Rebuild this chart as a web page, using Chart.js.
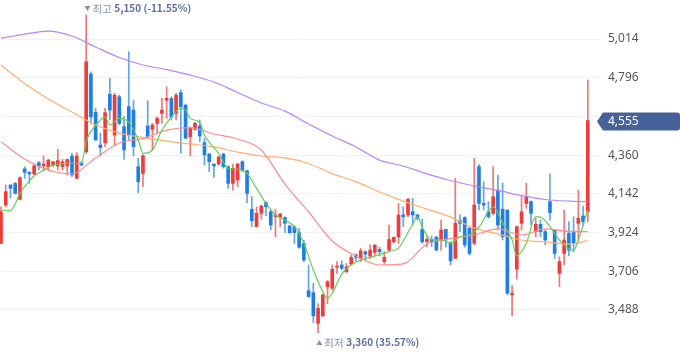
<!DOCTYPE html>
<html>
<head>
<meta charset="utf-8">
<script src="https://cdn.jsdelivr.net/npm/chart.js@4/dist/chart.umd.min.js"></script>
<style>
  html, body { margin: 0; padding: 0; background: #fff; }
  canvas { display: block; }
</style>
</head>
<body>
<canvas id="chart" width="680" height="358"></canvas>
<script>
// daily candles (price)
const opens = [3863,4079,4192,4201,4111,4282,4263,4254,4317,4299, 4295,4304,4299,4295,4299,4355,4229,4317,4379,4817,
  4601,4417,4430,4703,4473,4689,4520,4633,4614,4295, 4257,4524,4505,4539,4595,4670,4679,4595,4712,4642,
  4464,4505,4524,4430,4366,4310,4310,4366,4295,4201, 4220,4323,4272,4055,3957,4032,4092,4041,4013,4011,
  4009,3961,3957,3923,3863,3596,3585,3412,3454,3619, 3610,3728,3741,3703,3747,3797,3778,3816,3792,3812,
  3829,3760,3825,3872,3900,4023,4023,4041,4023,3942, 3872,3885,3897,3882,3942,3863,3778,3991,4009,3948,
  3863,4295,4088,4041,4032,4163,4055,4051,3572,3717, 3976,4088,4098,3929,3970,3929,4098,3938,3694,3806,
  3919,3929,3976,4017,4041];
const highs = [4069,4192,4192,4205,4238,4295,4267,4310,4323,4355, 4336,4323,4393,4336,4336,4370,4376,4323,5150,4830,
  4624,4483,4624,4793,4708,4698,4576,4943,4670,4342, 4361,4667,4539,4576,4680,4745,4689,4708,4727,4648,
  4520,4545,4558,4455,4370,4310,4351,4370,4299,4310, 4314,4329,4276,4126,4069,4079,4098,4051,4055,4032,
  4013,3966,3961,3948,3882,3741,3638,3524,3578,3653, 3741,3760,3765,3750,3797,3806,3835,3821,3854,3854,
  3841,3816,3966,3900,4088,4069,4117,4117,4026,4000, 3900,3904,3904,3994,3942,3872,4229,4023,4013,3953,
  4342,4308,4210,4098,4295,4248,4201,4051,3625,3961, 4133,4201,4103,4004,3994,3938,4254,3938,3787,4051,
  3985,4013,4163,4073,4783];
const lows = [3863,4069,4118,4141,4107,4229,4201,4248,4276,4272, 4272,4295,4276,4276,4248,4238,4229,4299,4370,4539,
  4445,4355,4408,4558,4417,4530,4336,4445,4355,4148, 4182,4455,4389,4483,4539,4567,4558,4558,4370,4455,
  4355,4500,4436,4304,4267,4235,4304,4286,4173,4163, 4182,4267,4092,3957,3957,4000,4017,3938,3900,3957,
  3923,3919,3863,3835,3760,3559,3416,3360,3450,3524, 3600,3694,3713,3697,3741,3765,3760,3769,3778,3797,
  3792,3750,3821,3863,3863,3957,4013,3966,3994,3863, 3844,3844,3821,3825,3841,3741,3778,3929,3841,3797,
  3854,4051,4051,4004,4023,3938,3882,3572,3454,3661, 3938,4060,3966,3900,3900,3854,3994,3778,3619,3741,
  3792,3816,3882,3961,3985];
const closes = [4041,4154,4173,4145,4233,4263,4254,4299,4299,4310, 4332,4323,4329,4323,4336,4248,4355,4304,4886,4576,
  4445,4402,4599,4614,4698,4539,4389,4473,4408,4210, 4357,4464,4530,4567,4614,4680,4576,4698,4633,4455,
  4511,4539,4468,4361,4323,4299,4351,4295,4201,4286, 4310,4276,4145,3991,4032,4073,4069,3966,4023,4028,
  3976,3923,3923,3841,3769,3563,3454,3496,3572,3647, 3717,3735,3722,3731,3784,3784,3821,3803,3825,3854,
  3816,3784,3885,3897,4023,4013,4111,4023,4004,3872, 3885,3872,3825,3938,3882,3765,3976,3976,3854,3806,
  4079,4088,4079,4013,4126,3966,3900,3582,3582,3957, 4041,4126,4032,3970,3929,3882,4036,3806,3760,3882,
  3825,3863,4004,3985,4555];

// moving averages (candle index -> value)
const maAt   = [0,5,10,15,20,25,30,35,40,45,50,55,60,65,70,75,80,85,90,95,100,105,110,115,120,124];
const ma20  = [4436,4338,4276,4254,4344,4428,4453,4501,4515,4479,4451,4389,4197,4040,3876,3792,3741,3747,3859,3890,3910,3944,3910,3944,3930,3929];
const ma60  = [4868,4763,4676,4603,4530,4484,4459,4439,4423,4406,4377,4355,4344,4313,4256,4211,4152,4101,4056,4011,3949,3916,3882,3871,3859,3878];
const ma120 = [5018,5042,5059,5031,4969,4910,4868,4842,4811,4772,4713,4654,4608,4535,4468,4406,4332,4299,4254,4217,4186,4161,4132,4110,4101,4098];
const ma5At = [0,2,3,4,6,7,9,11,14,17,18,20,22,23,25,27,29,30,32,34,36,38,39,40,42,43,46,48,50,52,54,56,58,60,62,64,66,68,69,70,
  72,75,78,82,84,87,88,89,91,93,95,97,99,101,104,106,108,109,111,113,114,116,118,121,122,124];
const ma5 = [4051,4047,4085,4145,4214,4242,4276,4304,4314,4313,4439,4527,4576,4530,4567,4546,4445,4370,4389,4501,4576,4623,4614,4567,4544,4473,
  4370,4286,4280,4257,4173,4088,4023,3994,3957,3863,3713,3591,3552,3582,3690,3758,3784,3816,3837,3972,4013,3955,3882,3882,
  3865,3900,3910,3955,4068,3978,3882,3792,3863,4013,4011,3957,3882,3822,3882,4051];

const yTicks = [3488, 3706, 3924, 4142, 4360, 4578, 4796, 5014];
const hiIdx = 18, loIdx = 67;
const hiText = ['최고', '5,150 (-11.55%)'];
const loText = ['최저', '3,360 (35.57%)'];

const UP = '#f03b3b', DOWN = '#1f7de6';
const UP_WICK = 'rgba(240,59,59,0.7)', DOWN_WICK = 'rgba(31,125,230,0.7)';
const slots = opens.length + 3;
const labels = Array.from({length: slots}, (_, i) => i);
const isUp = i => closes[i] >= opens[i];
const pts = (at, vals) => at.map((x, k) => ({x, y: vals[k]}));

function maLine(label, data, color) {
  return {
    type: 'line', label, data, borderColor: color, borderWidth: 1.2,
    pointRadius: 0, cubicInterpolationMode: 'monotone', order: 0
  };
}

function fmt(v) { return v.toLocaleString('en-US'); }

const markers = {
  id: 'markers',
  afterDatasetsDraw(chart) {
    const {ctx, scales: {x, y}} = chart;
    ctx.save();

    // hi / lo labels
    function note(idx, val, dy, down, txt) {
      const cx = x.getPixelForValue(idx) + 1.3;
      const cy = y.getPixelForValue(val) + dy;
      ctx.fillStyle = '#8592b6';
      ctx.beginPath();
      if (down) { ctx.moveTo(cx - 3, cy - 2.5); ctx.lineTo(cx + 3, cy - 2.5); ctx.lineTo(cx, cy + 2.5); }
      else { ctx.moveTo(cx - 3, cy + 2.5); ctx.lineTo(cx + 3, cy + 2.5); ctx.lineTo(cx, cy - 2.5); }
      ctx.fill();
      ctx.textBaseline = 'middle';
      ctx.textAlign = 'left';
      ctx.font = '10.5px "Noto Sans CJK KR", "Noto Sans", sans-serif';
      let tx = cx + 5;
      ctx.fillText(txt[0], tx, cy);
      tx += ctx.measureText(txt[0]).width + 2.5;
      ctx.fillStyle = '#5c6fa4';
      ctx.font = 'bold 10px "Noto Sans CJK KR", "Noto Sans", sans-serif';
      ctx.fillText(txt[1], tx, cy);
    }
    note(hiIdx, highs[hiIdx], -6.3, true, hiText);
    note(loIdx, lows[loIdx], 10, false, loText);

    // last price tag
    const last = closes.length - 1;
    const ty = Math.round(y.getPixelForValue(closes[last])) + 0.5;
    const l = 597, b = 603, r = 680, h = 9;
    ctx.fillStyle = '#47619b';
    ctx.beginPath();
    ctx.moveTo(l, ty);
    ctx.lineTo(b, ty - h);
    ctx.lineTo(r - 3, ty - h);
    ctx.quadraticCurveTo(r, ty - h, r, ty - h + 3);
    ctx.lineTo(r, ty + h - 3);
    ctx.quadraticCurveTo(r, ty + h, r - 3, ty + h);
    ctx.lineTo(b, ty + h);
    ctx.closePath();
    ctx.fill();
    ctx.fillStyle = '#ffffff';
    ctx.font = '12px "Noto Sans", sans-serif';
    ctx.textBaseline = 'middle';
    ctx.fillText(fmt(closes[last]), 608, ty);
    ctx.restore();
  }
};

new Chart(document.getElementById('chart'), {
  type: 'bar',
  data: {
    labels,
    datasets: [
      maLine('MA5', pts(ma5At, ma5), '#63cf58'),
      maLine('MA20', pts(maAt, ma20), '#ff8b8b'),
      maLine('MA60', pts(maAt, ma60), '#ffb06c'),
      maLine('MA120', pts(maAt, ma120), '#b884ff'),
      {
        label: 'body', data: opens.map((o, i) => [o, closes[i]]),
        backgroundColor: ctx => isUp(ctx.dataIndex) ? UP : DOWN,
        barThickness: 3, minBarLength: 1, grouped: false, order: 1, clip: 4
      },
      {
        label: 'wick', data: lows.map((lo, i) => [lo, highs[i]]),
        backgroundColor: ctx => isUp(ctx.dataIndex) ? UP_WICK : DOWN_WICK,
        barThickness: 1, grouped: false, order: 2, clip: 4
      }
    ]
  },
  options: {
    responsive: false,
    animation: false,
    layout: { autoPadding: false, padding: { left: 1, right: 0, top: 0, bottom: 0 } },
    plugins: { legend: { display: false }, tooltip: { enabled: false } },
    scales: {
      x: { type: 'category', offset: false, display: false, grid: { display: false } },
      y: {
        position: 'right',
        min: 3217, max: 5234,
        afterBuildTicks: s => { s.ticks = yTicks.map(v => ({value: v})); },
        afterFit: s => { s.width = 78; s.paddingTop = 0; s.paddingBottom = 0; },
        grid: { color: '#f1f1f6', drawTicks: false },
        border: { display: false },
        ticks: {
          autoSkip: false, padding: 6, color: '#555',
          font: { family: '"Noto Sans", sans-serif', size: 12 },
          callback: v => v === 4578 ? '' : fmt(v)
        }
      }
    }
  },
  plugins: [markers]
});
</script>
</body>
</html>
